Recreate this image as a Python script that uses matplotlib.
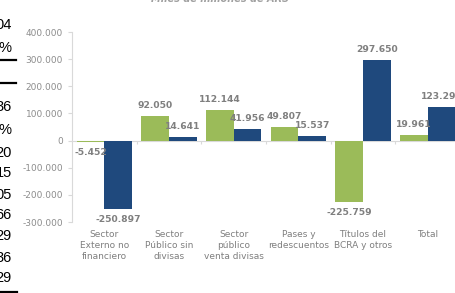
import matplotlib
matplotlib.use("Agg")
import matplotlib.pyplot as plt
from matplotlib.lines import Line2D
from matplotlib.transforms import blended_transform_factory

categories = ["Sector\nExterno no\nfinanciero", "Sector\nPúblico sin\ndivisas",
              "Sector\npúblico\nventa divisas", "Pases y\nredescuentos",
              "Títulos del\nBCRA y otros", "Total"]
green_vals = [-5452, 92050, 112144, 49807, -225759, 19961]
blue_vals = [-250897, 14641, 41956, 15537, 297650, 123297]
yticks = [-300000, -200000, -100000, 0, 100000, 200000, 300000, 400000]
title = "Miles de millones de ARS"
side_texts = ["04", "3%", "36", "6%", "20", "15", "05", "66", "29", "36", "29"]
side_ys = [25, 48, 107, 130, 153, 173, 195, 215, 236, 258, 278]

GREEN = "#9BBB59"
BLUE = "#1F497D"
GRAY = "#8C8C8C"
LGRAY = "#D9D9D9"

W, H = 455, 293
fig = plt.figure(figsize=(W / 100, H / 100), dpi=100)
fig.patch.set_facecolor("white")

def fx(px):
    return px / W

def fy(py):
    return 1 - py / H

ax = fig.add_axes([fx(72), fy(222), fx(460) - fx(72), fy(32) - fy(222)])
ax.set_xlim(-0.5, len(categories) - 0.5)
ax.set_ylim(-300000, 400000)

def fmt(v):
    return f"{v:,.0f}".replace(",", ".")

bw = 0.43
x = list(range(len(categories)))
ax.bar([i - bw / 2 for i in x], green_vals, width=bw, color=GREEN, zorder=3)
ax.bar([i + bw / 2 for i in x], blue_vals, width=bw, color=BLUE, zorder=3)

for i in x:
    for off, v in ((-bw / 2, green_vals[i]), (bw / 2, blue_vals[i])):
        dy = 7.5 if v >= 0 else -7.5
        ax.annotate(fmt(v), (i + off, v), xytext=(0, dy), textcoords="offset points",
                    ha="center", va="center", fontsize=6.6, fontweight="bold",
                    color="#7F7F7F", annotation_clip=False)

for s in ("top", "right"):
    ax.spines[s].set_visible(False)
ax.spines["left"].set_color(LGRAY)
ax.spines["bottom"].set_position(("data", 0))
ax.spines["bottom"].set_color(LGRAY)
ax.set_yticks(yticks)
ax.set_yticklabels([fmt(v) for v in yticks])
ax.tick_params(axis="y", length=3, color=LGRAY, labelcolor=GRAY, labelsize=6.5, pad=3.5)
ax.set_xticks([i + 0.5 for i in x[:-1]])
ax.set_xticklabels([])
ax.tick_params(axis="x", length=2.5, color=LGRAY, direction="out")

tr = blended_transform_factory(ax.transData, fig.transFigure)
for i, lab in enumerate(categories):
    ax.text(i, fy(230), lab, transform=tr, ha="center", va="top", fontsize=6.5,
            color="#7F7F7F", linespacing=1.3, clip_on=False)

fig.text(fx(220), fy(2.5), title, ha="center", va="baseline", fontsize=7,
         fontstyle="italic", fontweight="bold", color="#A0A0A0")

for t, yy in zip(side_texts, side_ys):
    fig.text(fx(12), fy(yy), t, ha="right", va="center", fontsize=10.5,
             family=["Liberation Sans Narrow", "Liberation Sans"], color="black")
for yy, xe in ((60, 16), (83, 16), (292, 17)):
    fig.add_artist(Line2D([0, fx(xe)], [fy(yy), fy(yy)], color="black", lw=1.6,
                          transform=fig.transFigure))

fig.savefig("out.png", dpi=100)
